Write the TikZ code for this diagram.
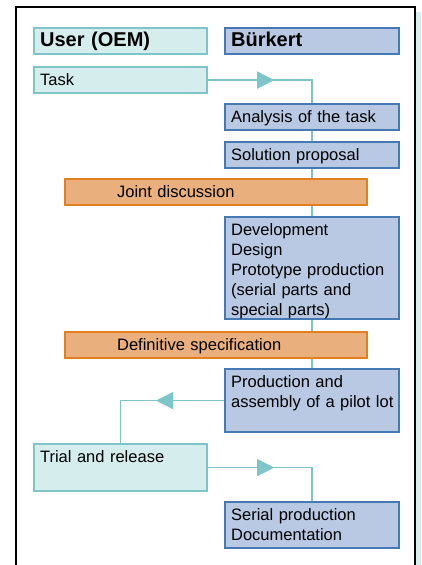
\documentclass[tikz,border=0pt]{standalone}
\usepackage{fontspec}
\setmainfont{Liberation Sans}
\usetikzlibrary{arrows.meta,decorations.markings,backgrounds}
\definecolor{tealfill}{HTML}{D6EDEE}
\definecolor{tealline}{HTML}{7EC5C9}
\definecolor{bluefill}{HTML}{B9C9E3}
\definecolor{blueline}{HTML}{4479B4}
\definecolor{orangefill}{HTML}{E9B07E}
\definecolor{orangeline}{HTML}{E37F1E}
\tikzset{
  box/.style={draw, line width=2.2pt, anchor=north west, align=left,
    inner xsep=6pt, inner ysep=3pt, text height=15.5pt, text depth=4.5pt,
    font=\fontsize{16.5}{20}\selectfont},
  userbox/.style={box, fill=tealfill, draw=tealline, text width=161pt},
  buerkertbox/.style={box, fill=bluefill, draw=blueline, text width=162pt},
  jointbox/.style={box, fill=orangefill, draw=orangeline, inner xsep=52pt, text width=198pt},
  headbox/.style={font=\fontsize{20}{24}\selectfont\bfseries},
  link/.style={tealline, line width=1.3pt},
  tipat/.style={postaction=decorate, decoration={markings,
    mark=at position #1 with {\arrow[tealline]{Triangle[length=17pt,width=17pt]}}}}
}
\begin{document}
\begin{tikzpicture}[x=1pt,y=-1pt]
    \useasboundingbox (0,0) rectangle (421,565);
    \fill [tealfill] (416,12) rectangle (421,565);
    \draw [line width=1.5pt] (16,570) -- (16,7) -- (415,7) -- (415,570);
    % column heads
    \node [userbox,headbox] (user) at (33,27) {User (OEM)};
    \node [buerkertbox,headbox] (buerkert) at (224,27) {Bürkert};
    % steps
    \node [userbox] (task) at (33,66) {Task};
    \node [buerkertbox] (analysis) at (224,103) {Analysis of the task};
    \node [buerkertbox] (proposal) at (224,141) {Solution proposal};
    \node [jointbox] (discussion) at (64,178) {Joint discussion};
    \node [buerkertbox, text depth=80.5pt] (develop) at (224,216)
      {Development\\Design\\Prototype production\\(serial parts and\\special parts)};
    \node [jointbox] (spec) at (64,331) {Definitive specification};
    \node [buerkertbox, text depth=41.5pt] (pilot) at (224,368)
      {Production and\\\mbox{assembly of a pilot lot}};
    \node [userbox, text depth=25.5pt] (trial) at (33,443) {Trial and release};
    \node [buerkertbox, text depth=24.5pt] (serial) at (224,501)
      {Serial production\\Documentation};
    % connectors
    \begin{scope}[on background layer]
      \draw [link,tipat=66pt] (task.east) -| (analysis.north);
      \draw [link] (analysis.south) -- (proposal.north);
      \draw [link] (proposal.south) -- (develop.north);
      \draw [link] (develop.south) -- (pilot.north);
      \draw [link,tipat=68pt] (pilot.west) -| (trial.north);
      \draw [link,tipat=66pt] (trial.east) -| (serial.north);
    \end{scope}
\end{tikzpicture}
\end{document}
